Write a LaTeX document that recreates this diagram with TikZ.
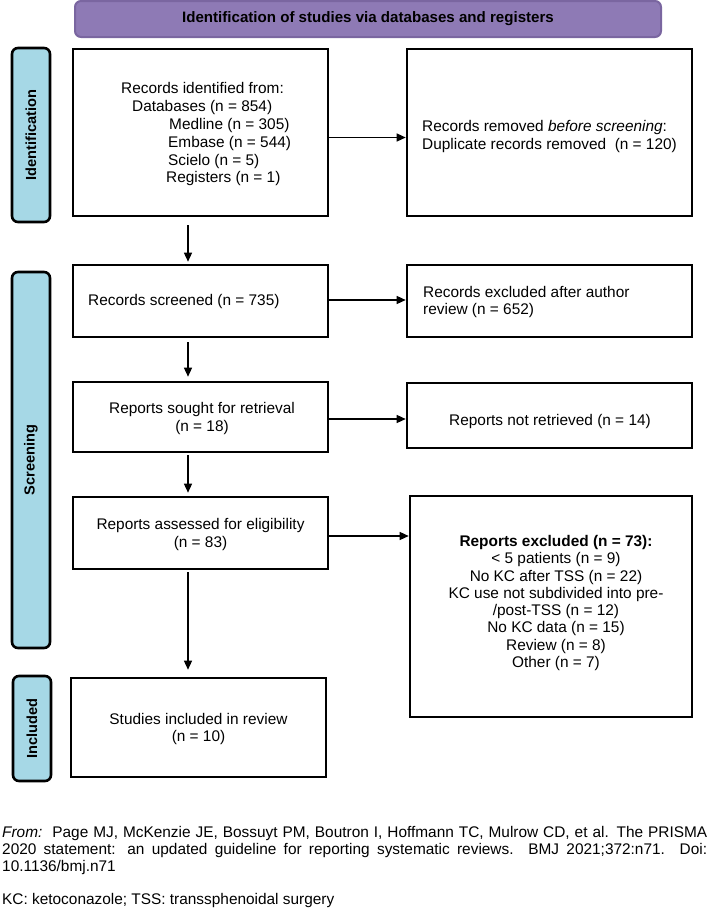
\documentclass[tikz,border=0pt]{standalone}
\usepackage{fontspec}
\setmainfont{Liberation Sans}
\usetikzlibrary{arrows.meta}
\definecolor{bannerfill}{HTML}{8E7AB5}
\definecolor{bannerdraw}{HTML}{7A66A0}
\definecolor{barfill}{HTML}{A6D8E6}
\begin{document}
\begin{tikzpicture}[x=1pt,y=-1pt,
  box/.style={draw=black, line width=2.6pt, inner sep=0pt},
  bar/.style={draw=black, line width=2.6pt, fill=barfill, rounded corners=6pt, inner sep=0pt,
    rotate=90, font=\fontsize{14.6}{16}\selectfont\bfseries},
  txt/.style={inner sep=0pt, font=\fontsize{15.4}{17.6}\selectfont},
  arr/.style={line width=1.3pt, -{Triangle[length=9pt,width=8pt]}},
]
\useasboundingbox (0,0) rectangle (708,910);

% banner
\node[draw=bannerdraw, line width=2pt, fill=bannerfill, rounded corners=6pt,
  minimum width=586pt, minimum height=36pt, inner sep=0pt,
  font=\fontsize{15.1}{17}\selectfont\bfseries] (banner) at (368,19)
  {Identification of studies via databases and registers};

% side bars
\node[bar, minimum width=174pt, minimum height=38pt] (ib) at (31,135) {Identification};
\node[bar, minimum width=376pt, minimum height=38pt] (sb) at (31,460) {Screening};
\node[bar, minimum width=105pt, minimum height=38pt] (cb) at (32,728.5) {Included};

% boxes
\node[box, minimum width=255pt, minimum height=167pt] (b1) at (200.5,132.5) {};
\node[box, minimum width=285pt, minimum height=167pt] (b2) at (549.5,132.5) {};
\node[box, minimum width=255pt, minimum height=72pt] (b3) at (200.5,301) {};
\node[box, minimum width=285pt, minimum height=72pt] (b4) at (549.5,301) {};
\node[box, minimum width=255pt, minimum height=70pt] (b5) at (200.5,417) {};
\node[box, minimum width=285pt, minimum height=65pt] (b6) at (549.5,415.5) {};
\node[box, minimum width=255pt, minimum height=72pt] (b7) at (200.5,533) {};
\node[box, minimum width=282pt, minimum height=221pt] (b8) at (551,606.5) {};
\node[box, minimum width=255pt, minimum height=99pt] (b9) at (198.5,727.5) {};

% texts
\node[txt, anchor=west, align=left, font=\fontsize{15.4}{17.8}\selectfont] (t1) at (121,134.5)
  {Records identified from:\\
   \hspace*{11pt}Databases (n = 854)\\
   \hspace*{48pt}Medline (n = 305)\\
   \hspace*{47pt}Embase (n = 544)\\
   \hspace*{47pt}Scielo (n = 5)\\
   \hspace*{45pt}Registers (n = 1)};
\node[txt, anchor=west, align=left, font=\fontsize{15.4}{18}\selectfont] (t2) at (422,136.5)
  {Records removed \textit{before screening}:\\
   Duplicate records removed\ \ (n = 120)};
\node[txt, anchor=west] (t3) at (88,302) {Records screened (n = 735)};
\node[txt, anchor=west, align=left, font=\fontsize{15.4}{17}\selectfont] (t4) at (423,302)
  {Records excluded after author\\review (n = 652)};
\node[txt, align=center] (t5) at (202,418.5) {Reports sought for retrieval\\(n = 18)};
\node[txt] (t6) at (550,422) {Reports not retrieved (n = 14)};
\node[txt, align=center] (t7) at (200.5,534.5) {Reports assessed for eligibility\\(n = 83)};
\node[txt, align=center, font=\fontsize{15.4}{17.3}\selectfont] (t8) at (556,603)
  {\textbf{Reports excluded (n = 73):}\\
   {\textless} 5 patients (n = 9)\\
   No KC after TSS (n = 22)\\
   KC use not subdivided into pre-\\
   /post-TSS (n = 12)\\
   No KC data (n = 15)\\
   Review (n = 8)\\
   Other (n = 7)};
\node[txt, align=center] (t9) at (198.5,729) {Studies included in review\\(n = 10)};

% arrows
\draw[arr] ([yshift=-5pt]b1.east) -- ([yshift=-5pt]b1.east -| b2.west);
\draw[arr] ([yshift=1pt]b3.east) -- ([yshift=1pt]b3.east -| b4.west);
\draw[arr] ([yshift=-2pt]b5.east) -- ([yshift=-2pt]b5.east -| b6.west);
\draw[arr] ([yshift=-3pt]b7.east) -- ([yshift=-3pt]b7.east -| b8.west);

\draw[arr, shorten <=8pt, shorten >=2pt] ([xshift=-12.5pt]b1.south) -- ([xshift=-12.5pt]b1.south |- b3.north);
\draw[arr, shorten <=4pt, shorten >=4pt] ([xshift=-12.5pt]b3.south) -- ([xshift=-12.5pt]b3.south |- b5.north);
\draw[arr, shorten <=2pt, shorten >=3pt] ([xshift=-12.5pt]b5.south) -- ([xshift=-12.5pt]b5.south |- b7.north);
\draw[arr, shorten <=2pt, shorten >=7pt] ([xshift=-12.5pt]b7.south) -- ([xshift=-12.5pt]b7.south |- b9.north);

% footer
\node[txt, anchor=north west, text width=705pt, align=justify, font=\fontsize{15.4}{16.8}\selectfont] (foot) at (2,826.5)
  {\textit{From:}\ \ Page MJ, McKenzie JE, Bossuyt PM, Boutron I, Hoffmann TC, Mulrow CD, et al. The PRISMA\linebreak
   2020 statement: an updated guideline for reporting systematic reviews. BMJ 2021;372:n71. Doi:\linebreak
   10.1136/bmj.n71};
\node[txt, anchor=west] (abbr) at (2,901) {KC: ketoconazole; TSS: transsphenoidal surgery};
\end{tikzpicture}
\end{document}
